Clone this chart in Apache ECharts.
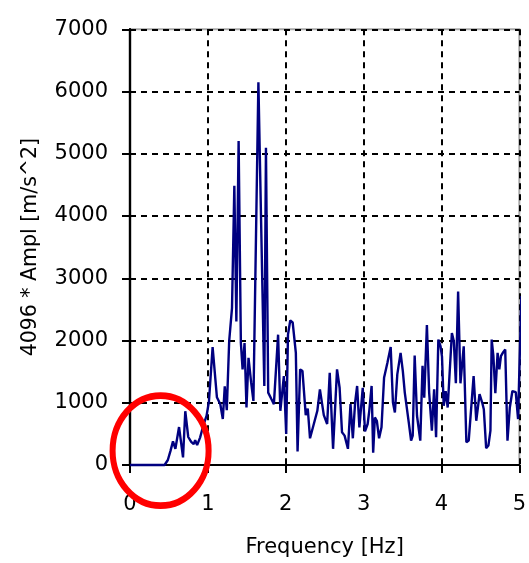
<!DOCTYPE html>
<html>
<head>
<meta charset="utf-8">
<script src="https://cdn.jsdelivr.net/npm/echarts@6/dist/echarts.min.js"></script>
<style>
  html, body { margin: 0; padding: 0; background: #fff; }
  #chart { width: 529px; height: 563px; }
</style>
</head>
<body>
<div id="chart"></div>
<script>
// Spectrum: frequency (Hz) and 4096 * amplitude (m/s^2)
const freqHz = [
  0, 0.444, 0.486, 0.520, 0.552, 0.583, 0.630, 0.681, 0.710, 0.748,
  0.786, 0.818, 0.837, 0.862, 0.900, 0.945, 0.983, 1.014, 1.061, 1.116,
  1.160, 1.192, 1.217, 1.243, 1.274, 1.310, 1.340, 1.366, 1.395, 1.424,
  1.446, 1.471, 1.496, 1.522, 1.556, 1.585, 1.598, 1.649, 1.725, 1.746,
  1.775, 1.817, 1.848, 1.902, 1.931, 1.976, 2.006, 2.029, 2.058, 2.089,
  2.130, 2.152, 2.185, 2.215, 2.257, 2.283, 2.312, 2.406, 2.439, 2.460,
  2.489, 2.532, 2.565, 2.608, 2.659, 2.692, 2.723, 2.756, 2.799, 2.832,
  2.862, 2.891, 2.917, 2.946, 2.989, 3.018, 3.052, 3.073, 3.103, 3.123,
  3.145, 3.170, 3.199, 3.230, 3.263, 3.306, 3.348, 3.377, 3.402, 3.433,
  3.475, 3.504, 3.529, 3.551, 3.580, 3.610, 3.631, 3.656, 3.686, 3.728,
  3.757, 3.779, 3.813, 3.842, 3.877, 3.906, 3.931, 3.960, 3.988, 4.007,
  4.029, 4.054, 4.080, 4.134, 4.159, 4.185, 4.214, 4.244, 4.286, 4.320,
  4.350, 4.413, 4.447, 4.467, 4.489, 4.523, 4.544, 4.574, 4.603, 4.629,
  4.645, 4.667, 4.692, 4.721, 4.743, 4.764, 4.793, 4.819, 4.848, 4.878,
  4.911, 4.954, 4.984, 5.005, 5.026
];
const amplitude = [
  0, 0, 80, 227, 380, 260, 610, 121, 864, 450,
  370, 334, 400, 320, 440, 650, 790, 1020, 1895, 1090,
  975, 740, 1265, 880, 1995, 2519, 4487, 2306, 5204, 1960,
  1536, 1960, 923, 1721, 1322, 1030, 1014, 6150, 1270, 5098,
  1163, 1055, 978, 2094, 871, 1429, 499, 2094, 2322, 2290,
  1801, 217, 1536, 1509, 802, 908, 429, 871, 1215, 1241,
  802, 659, 1482, 260, 1536, 1241, 525, 472, 260, 978,
  429, 1003, 1270, 605, 1241, 540, 659, 871, 1270, 196,
  764, 711, 429, 605, 1402, 1641, 1896, 1003, 844, 1456,
  1801, 1509, 1163, 1188, 684, 392, 472, 1759, 791, 392,
  1595, 1083, 2249, 1163, 552, 1215, 445, 2015, 1908, 1740,
  951, 1188, 924, 2120, 1987, 1313, 2785, 1313, 1908, 365,
  392, 1429, 711, 684, 1137, 1003, 897, 270, 312, 552,
  2015, 1748, 1153, 1801, 1536, 1748, 1812, 1854, 392, 924,
  1188, 1172, 738, 711, 2716
];
const xTicks = [0, 1, 2, 3, 4, 5];
const yTicks = [0, 1000, 2000, 3000, 4000, 5000, 6000, 7000];

const FONT = 'DejaVu Sans';
const FS = 21;

const chart = echarts.init(document.getElementById('chart'), null, { renderer: 'canvas' });

const gridLine = { show: true, lineStyle: { color: '#000', width: 2, type: [6, 5] } };

chart.setOption({
  animation: false,
  backgroundColor: '#fff',
  grid: {
    left: 130, right: 4.7, top: 29.3, bottom: 93.7,
    show: true, borderColor: '#a8a8a8', borderWidth: 2, backgroundColor: 'transparent'
  },
  xAxis: {
    type: 'value',
    min: xTicks[0], max: xTicks[xTicks.length - 1], interval: 1,
    name: 'Frequency [Hz]',
    nameLocation: 'middle', nameGap: 72,
    nameTextStyle: { fontFamily: FONT, fontSize: FS, color: '#000' },
    axisLine: { show: true, onZero: false, lineStyle: { color: '#000', width: 2 } },
    axisTick: { show: true, inside: false, length: 8, lineStyle: { color: '#000', width: 2 } },
    axisLabel: { margin: 29, fontFamily: FONT, fontSize: FS, color: '#000', formatter: v => String(v) },
    splitLine: gridLine
  },
  yAxis: {
    type: 'value',
    min: yTicks[0], max: yTicks[yTicks.length - 1], interval: 1000,
    name: '4096 * Ampl [m/s^2]',
    nameLocation: 'middle', nameGap: 89, nameRotate: 90,
    nameTextStyle: { fontFamily: FONT, fontSize: 20.5, color: '#000' },
    axisLine: { show: true, onZero: false, lineStyle: { color: '#000', width: 2.4 } },
    axisTick: { show: true, inside: false, length: 8, lineStyle: { color: '#000', width: 2 } },
    axisLabel: { margin: 22, fontFamily: FONT, fontSize: FS, color: '#000', formatter: v => String(v) },
    splitLine: gridLine
  },
  series: [{
    type: 'line',
    data: freqHz.map((f, i) => [f, amplitude[i]]),
    showSymbol: false,
    clip: false,
    lineStyle: { color: '#000080', width: 2.4 },
    z: 5
  }]
});

// Red ring marking the low-frequency onset
const c = chart.convertToPixel({ xAxisIndex: 0, yAxisIndex: 0 }, [0.393, 230]);
chart.setOption({
  graphic: [{
    type: 'circle',
    x: c[0], y: c[1],
    shape: { cx: 0, cy: 0, r: 48 },
    scaleY: 55 / 48,
    style: { fill: 'none', stroke: '#ff0000', lineWidth: 6 },
    z: 100
  }]
});
</script>
</body>
</html>
